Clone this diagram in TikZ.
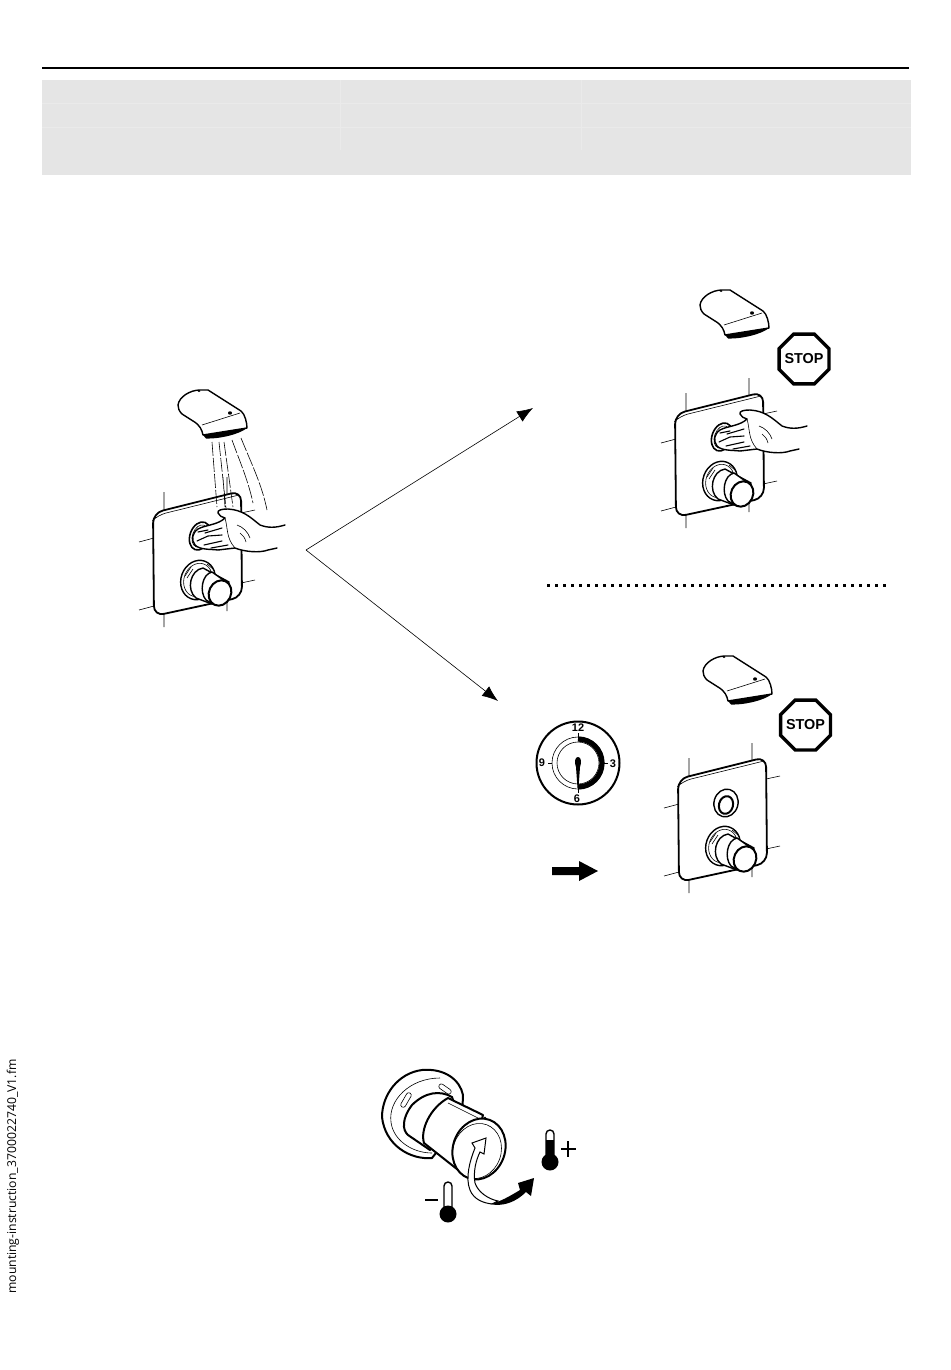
\documentclass[tikz,border=0pt]{standalone}
\usepackage{fontspec}
\setsansfont{Liberation Sans}
\newfontfamily\marginfont{Open Sans}
\usepackage{tikz}
\usetikzlibrary{shapes.geometric,arrows.meta}
\definecolor{bandgray}{HTML}{E5E5E5}
\definecolor{bandline}{HTML}{EAEAEA}
\tikzset{
    outline/.style={line width=0.7pt,line join=round,line cap=round},
    thinline/.style={line width=0.3pt},
    fingerline/.style={line width=0.55pt,line cap=round},
    stopsign/.style={draw,regular polygon,regular polygon sides=8,line width=1.7pt,minimum size=27pt,inner sep=-3pt,outer sep=0pt,font=\sffamily\bfseries\fontsize{7.2}{8}\selectfont},
    dialnum/.style={inner sep=0pt,font=\sffamily\bfseries\fontsize{5.5}{6}\selectfont},
}
\newcommand{\showerhead}[2]{
    \begin{scope}[shift={(#1,#2)}]
        \fill (203,435) -- (247,428) .. controls (240,434) and (220,439) .. (206,438.5) -- cycle;
        \draw [outline,fill=white] (178,405) .. controls (179,397) and (190,390) .. (200,390) -- (208,390) -- (241,411) .. controls (245,414) and (247,423) .. (247,428) -- (203,435) .. controls (202,430) and (200,425) .. (193,421) -- (182,414) .. controls (179,411) and (178,408) .. (178,405) -- cycle;
        \draw [thinline] (202,425) -- (240,413);
        \fill (230,413) circle [x radius=2, y radius=1.7];
        \fill (199,391) circle [x radius=1.5, y radius=1];
    \end{scope}
}
\newcommand{\wallpanel}[2]{
    \begin{scope}[shift={(#1,#2)}]
        % ticks behind the plate
        \draw [thinline] (164,492) -- (164,512) (164,614) -- (164,627) (139,542) -- (154,538) (139,610) -- (154,606);
        \draw [thinline] (227,477) -- (227,494) (241,513) -- (255,510) (241,583) -- (255,580) (227,602) -- (227,611);
        \draw [outline,fill=white,line width=0.9pt,rounded corners=5pt] (153,513) -- (241,491) -- (242,597) -- (154,616) -- cycle;
        \draw [thinline,rounded corners=4pt] (156,517) -- (158,515) -- (239,495);
    \end{scope}
}
\newcommand{\mixerknob}[2]{
    \begin{scope}[shift={(#1,#2)}]
        \draw [outline,fill=white] (198,580) circle [x radius=17, y radius=20,rotate=20];
        \draw [thinline] (198,580) circle [x radius=14, y radius=17,rotate=20];
        \draw [thinline] (185,576) -- (191,567) (187,578) -- (193,569) (207,564) -- (213,569);
        \draw [outline,fill=white] (203,568) .. controls (190,570) and (186,590) .. (196,598) -- (212,604) -- (229,582) -- cycle;
        \draw [outline,fill=white] (212,572) .. controls (202,574) and (199,592) .. (206,600) -- (213,604) -- (229,584) -- cycle;
        \draw [outline,line width=1pt,fill=white] (220,593) circle [x radius=11, y radius=13,rotate=25];
    \end{scope}
}
\newcommand{\handover}[2]{
    \begin{scope}[shift={(#1,#2)}]
        \draw [outline,fill=white,line width=0.8pt] (200,536) circle [x radius=10, y radius=14.5,rotate=20];
        \draw [thinline] (200,536) circle [x radius=7.5, y radius=11.5,rotate=20];
        \draw [outline,fill=white] (285,525) .. controls (275,528) and (268,528) .. (260,525) .. controls (250,517) and (243,510) .. (228,509) .. controls (222,509) and (217,510) .. (218,513) .. controls (219,516) and (222,517) .. (225,518) .. controls (218,525) and (205,525) .. (198,529) .. controls (192,533) and (191,540) .. (195,545) .. controls (200,550) and (210,549) .. (218,550) -- (235,548) .. controls (245,552) and (260,553) .. (268,550) -- (277,548);
        \draw [thinline] (225,518) .. controls (228,528) and (226,538) .. (235,548);
        \draw [fingerline] (198,532) -- (208,530) (205,533) -- (222,528) (197,541) -- (208,536) -- (222,535) (204,545) -- (222,541) (211,548) -- (228,545);
        \draw [thinline] (237,525) .. controls (243,527) and (248,532) .. (250,538) (240,533) .. controls (243,535) and (245,538) .. (246,542);
    \end{scope}
}
\newcommand{\thermo}[2]{
    \begin{scope}[shift={(#1,#2)}]
        \draw [outline,fill=white] (-4,-6) -- (-4,-28) arc [start angle=180,end angle=360,radius=4] -- (4,-6);
        \fill (0,0) circle [radius=8.5];
    \end{scope}
}
\begin{document}
\begin{tikzpicture}[x=0.5pt,y=0.5pt,yscale=-1,xscale=1]
    \useasboundingbox (0,0) rectangle (950,1370);

    % Header band
    \draw [line width=1pt] (42,68) -- (909,68);
    \fill [bandgray] (42,80) rectangle (911,175);
    \draw [bandline,line width=0.4pt] (42,103) -- (911,103) (42,127) -- (911,127) (340,80) -- (340,150) (581,80) -- (581,150);

    % Running shower
    \wallpanel{0}{0}
    \draw [thinline,dash pattern=on 7pt off 1pt] (212,442) -- (217,507) (219,442) -- (226,508) (224,442) -- (233,507) (223,477) -- (225,507);
    \draw [thinline,dash pattern=on 7pt off 1pt] (232,440) .. controls (240,462) and (248,480) .. (253,503) (241,438) .. controls (252,465) and (262,485) .. (267,510);
    \showerhead{0}{0}
    \mixerknob{0}{0}
    \handover{0}{0}

    % Branch arrows
    \coordinate (fork) at (306,550);
    \coordinate (uptip) at (533,408);
    \coordinate (downtip) at (498,701);
    \draw [thinline,-{Latex[length=8pt,width=6pt]}] (fork) -- (uptip);
    \draw [thinline,-{Latex[length=8pt,width=6pt]}] (fork) -- (downtip);

    % Stop by hand
    \showerhead{522}{-100}
    \node [stopsign] (stopa) at (804,359) {STOP};
    \wallpanel{522}{-99}
    \mixerknob{522}{-99}
    \handover{522}{-99}

    % Separator
    \coordinate (sepl) at (547,585);
    \coordinate (sepr) at (886,585);
    \draw [line width=1.5pt,dash pattern=on 1.5pt off 2.5pt] (sepl) -- (sepr);

    % Stop by timer
    \showerhead{525}{266}
    \node [stopsign] (stopb) at (805.5,725) {STOP};
    \wallpanel{525}{266}
    \mixerknob{525}{266}
    \draw [outline,fill=white] (726,803) circle [x radius=12, y radius=14,rotate=15];
    \draw [outline,line width=1pt] (726,805) circle [x radius=7, y radius=9,rotate=15];

    % Dial
    \draw [line width=1pt] (578,763) circle [radius=41.5];
    \draw [thinline] (578,763) circle [radius=26];
    \draw [thinline] (578,763) circle [radius=21];
    \draw [line width=2.6pt] (578,739) arc [start angle=-90,end angle=90,radius=24];
    \fill (578,757) .. controls (581,757) and (582,762) .. (580,767) -- (578.5,788) -- (577.5,788) -- (576,767) .. controls (574,762) and (575,757) .. (578,757) -- cycle;
    \draw [line width=0.5pt] (578,733) -- (578,737) (578,787) -- (578,793) (552,763) -- (548,763) (604,763) -- (608,763);
    \node [dialnum] (twelve) at (578,728) {12};
    \node [dialnum] (three) at (613,764) {3};
    \node [dialnum] (six) at (577,799) {6};
    \node [dialnum] (nine) at (542,763) {9};

    % Fat arrow
    \fill (552,867) -- (579,867) -- (579,861) -- (598,871) -- (579,881) -- (579,875) -- (552,875) -- cycle;

    % Temperature knob
    \draw [outline,line width=1pt,fill=white] (382,1117) .. controls (382,1095) and (398,1073) .. (422,1070) .. controls (445,1068) and (460,1080) .. (463,1095) -- (462,1120) -- (432,1158) .. controls (410,1160) and (385,1145) .. (382,1117) -- cycle;
    \draw [thinline] (391,1122) .. controls (388,1100) and (410,1078) .. (440,1078) (391,1122) .. controls (393,1140) and (412,1153) .. (432,1153);
    \draw [thinline,rounded corners=1.2pt,rotate around={-60:(406,1100)}] (398,1097.5) rectangle (414,1102.5);
    \draw [thinline,rounded corners=1.2pt,rotate around={35:(445,1089)}] (438,1086.5) rectangle (452,1091.5);
    \draw [outline,line width=1pt,fill=white] (452,1097) .. controls (440,1090) and (425,1092) .. (412,1105) .. controls (402,1118) and (402,1130) .. (408,1135) -- (430,1150) -- (460,1120) -- cycle;
    \draw [outline,line width=1pt,fill=white] (448,1098) -- (483,1115) -- (467,1177) -- (424,1143) .. controls (420,1130) and (430,1108) .. (448,1098) -- cycle;
    \draw [thinline] (448,1103) -- (478,1118);
    \draw [outline,line width=1pt,fill=white] (479,1149) circle [x radius=26, y radius=31,rotate=20];
    \draw [thinline] (477,1151) circle [x radius=24, y radius=28,rotate=20];
    \fill (485,1118) circle [radius=1.5];
    % Turn arrow
    \draw [thinline,line width=0.5pt,fill=white] (486,1138) -- (472,1143) -- (475,1148) .. controls (470,1160) and (465,1178) .. (470,1190) .. controls (474,1200) and (484,1203) .. (492,1204) -- (498,1201) .. controls (488,1199) and (478,1192) .. (475,1183) .. controls (473,1172) and (476,1160) .. (480,1152) -- (484,1154) -- cycle;
    \fill (490,1204) .. controls (500,1202) and (510,1196) .. (520,1190) -- (518,1183) -- (534,1178) -- (531,1196) -- (526,1192) .. controls (516,1202) and (503,1207) .. (490,1204) -- cycle;
    % Thermometers
    \thermo{448}{1214}
    \coordinate (minusl) at (425,1200);
    \coordinate (minusr) at (438,1200);
    \draw [line width=1pt] (minusl) -- (minusr);
    \thermo{550}{1162}
    \fill (546,1140) rectangle (554,1158);
    \coordinate (plusl) at (561,1149);
    \coordinate (plusr) at (576,1149);
    \coordinate (plust) at (568,1141);
    \coordinate (plusb) at (568,1157);
    \draw [line width=0.8pt] (plusl) -- (plusr) (plust) -- (plusb);

    % Margin file name
    \node [rotate=90,inner sep=0pt,anchor=west,font=\marginfont\fontsize{6.1}{7}\selectfont] (fname) at (13,1294) {mounting-instruction\_3700022740\_V1.fm};
\end{tikzpicture}
\end{document}
